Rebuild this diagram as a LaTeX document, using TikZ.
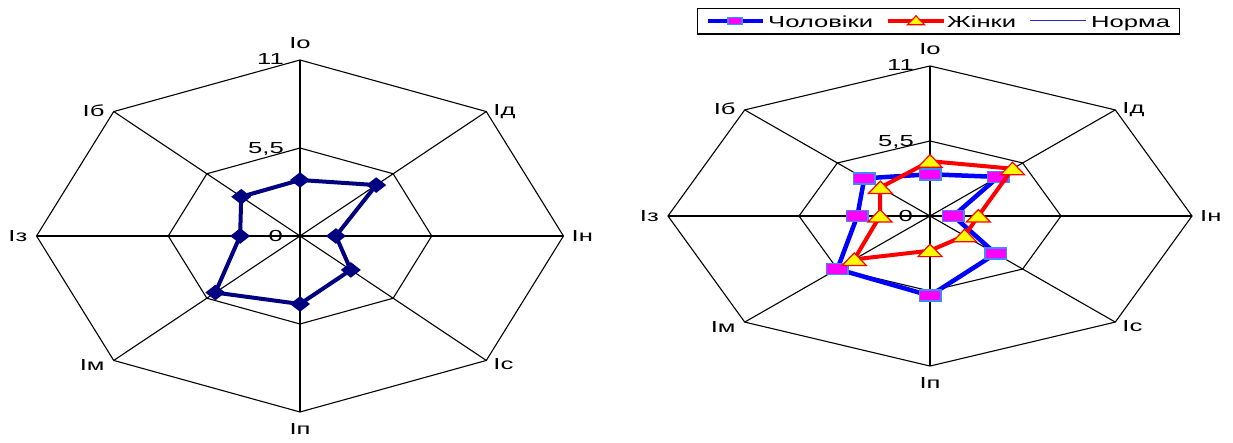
\documentclass[tikz,border=0pt]{standalone}
\usepackage{fontspec}
\setmainfont{Liberation Sans}[FakeStretch=1.6]
\usepackage{xcolor}
\usepackage{tikz}
\definecolor{navy}{RGB}{0,0,128}
\definecolor{menfill}{RGB}{255,0,255}
\definecolor{menedge}{RGB}{60,140,255}
\definecolor{womenfill}{RGB}{255,255,0}
\definecolor{normblue}{RGB}{40,40,200}
\tikzset{
  gridline/.style={black, line width=1.1pt},
  axlabel/.style={inner sep=0pt, font=\fontsize{16}{19}\selectfont},
  dmd/.pic={\fill[navy] (-10pt,0) -- (0,7.8pt) -- (10pt,0) -- (0,-7.8pt) -- cycle;},
  sqr/.pic={\filldraw[fill=menfill, draw=menedge, line width=1.6pt] (-10.7pt,-5.5pt) rectangle (10.7pt,5.5pt);},
  tri/.pic={\filldraw[fill=womenfill, draw=red, line width=1.2pt, line join=miter] (-12pt,-6pt) -- (12pt,-6pt) -- (0,6.5pt) -- cycle;},
}

\begin{document}
\begin{tikzpicture}[x=1pt, y=-1pt]
	\useasboundingbox (0,0) rectangle (1233,443);

	% Draw both radar frames
	\foreach \cx/\cy/\rx/\ry/\s in {300/236/23.95/16/L, 930/216/23.82/13.64/R}{
	\begin{scope}[shift={(\cx,\cy)}, x=\rx pt, y=\ry pt]
		\foreach \a in {90,45,0,-45,-90,-135,180,135}
			\draw[gridline] (0,0) -- (\a:11);
		\foreach \r in {5.5,11}
			\draw[gridline] (90:\r) -- (45:\r) -- (0:\r) -- (-45:\r) -- (-90:\r) -- (-135:\r) -- (180:\r) -- (135:\r) -- cycle;

		% Axis names
		\foreach \a/\t/\anc/\dx/\dy/\n in {90/Іо/base/0/11/io, 45/Ід/base west/7/-4/id, 0/Ін/base west/8/-5.7/in,
			-45/Іс/base west/7/-9.5/is, -90/Іп/base/0/-22/ip, -135/Ім/base east/-9/-10/im,
			180/Із/base east/-9/-5.7/iz, 135/Іб/base east/-9/-5/ib}
			\node[axlabel, anchor=\anc, xshift=\dx pt, yshift=\dy pt] (\s\n) at (\a:11) {\t};

		% Scale values
		\node[axlabel, anchor=base east, xshift=-16pt, yshift=-5pt] (\s max) at (90:11) {11};
		\node[axlabel, anchor=base east, xshift=-16pt, yshift=-6pt] (\s mid) at (90:5.5) {5,5};
		\node[axlabel, anchor=base east, xshift=-17pt, yshift=-6pt] (\s zero) at (0,0) {0};
	\end{scope}
	}

	% Left chart data
	\begin{scope}[shift={(300,236)}, x=23.95pt, y=16pt]
		\draw[navy, line width=4pt, line join=round] (90:3.5) -- (45:4.5) -- (0:1.5) -- (-45:3) -- (-90:4.25) -- (-135:5) -- (180:2.5) -- (135:3.47) -- cycle;
		\foreach \a/\v in {90/3.5, 45/4.5, 0/1.5, -45/3, -90/4.25, -135/5, 180/2.5, 135/3.47}
			\pic at (\a:\v) {dmd};
	\end{scope}

	% Right chart data
	\begin{scope}[shift={(930,216)}, x=23.82pt, y=13.64pt]
		\draw[blue, line width=4.5pt, line join=round] (90:3.06) -- (45:4.05) -- (0:0.98) -- (-45:3.9) -- (-90:5.84) -- (-135:5.5) -- (180:3.05) -- (135:3.9) -- cycle;
		\foreach \a/\v in {90/3.06, 45/4.05, 0/0.98, -45/3.9, -90/5.84, -135/5.5, 180/3.05, 135/3.9}
			\pic at (\a:\v) {sqr};
		\draw[red, line width=4pt, line join=round] (90:4.02) -- (45:4.9) -- (0:2.03) -- (-45:2.05) -- (-90:2.54) -- (-135:4.5) -- (180:2.1) -- (135:2.95) -- cycle;
		\foreach \a/\v in {90/4.02, 45/4.9, 0/2.03, -45/2.05, -90/2.54, -135/4.5, 180/2.1, 135/2.95}
			\pic at (\a:\v) {tri};
	\end{scope}

	% Legend
	\draw[line width=1.5pt] (697.5,8.5) rectangle (1179.5,34);
	\draw[blue, line width=3.5pt] (708,21) -- (763,21);
	\pic[scale=0.65] at (735,21) {sqr};
	\node[axlabel, anchor=base west] (legmen) at (768,27.7) {Чоловіки};
	\draw[red, line width=3.5pt] (888,21) -- (944,21);
	\pic[scale=0.72] at (916,20.5) {tri};
	\node[axlabel, anchor=base west] (legwomen) at (947,27.7) {Жінки};
	\draw[normblue, line width=1pt] (1030,21) -- (1086,21);
	\node[axlabel, anchor=base west] (legnorm) at (1091,27.7) {Норма};
\end{tikzpicture}
\end{document}
